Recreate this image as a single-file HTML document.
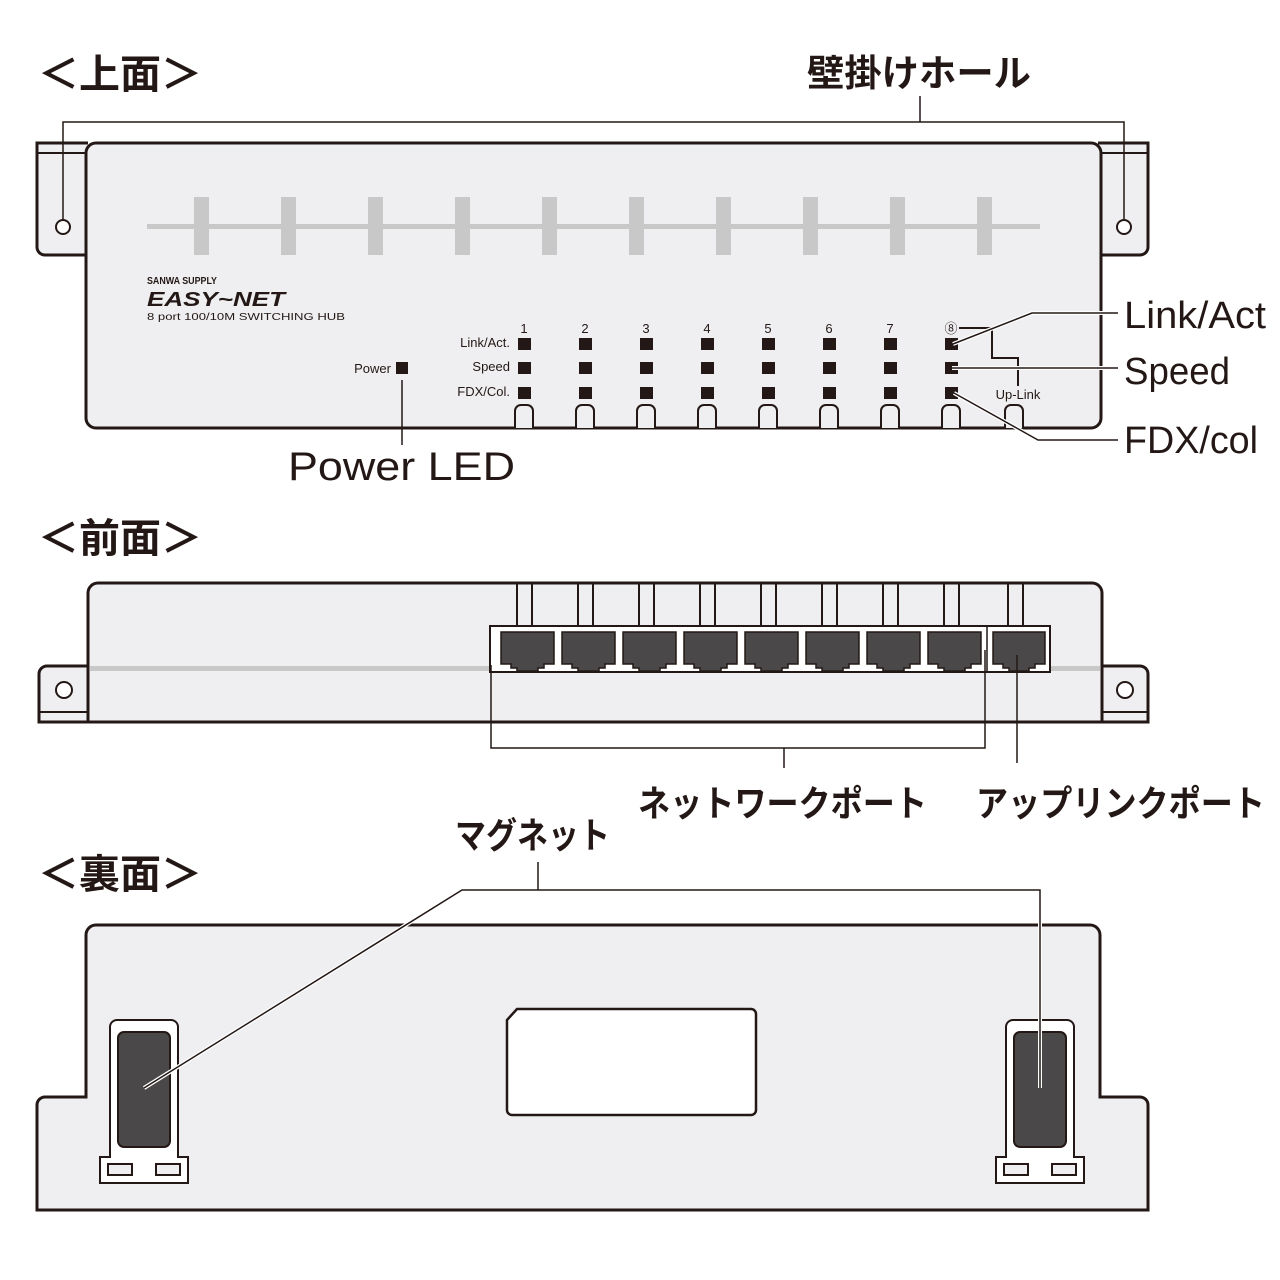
<!DOCTYPE html>
<html><head><meta charset="utf-8"><style>
html,body{margin:0;padding:0;background:#fff;}
svg{display:block;}
text{font-family:"Liberation Sans","Noto Sans CJK JP",sans-serif;fill:#231815;}
.jp{font-family:"Noto Sans CJK JP","Liberation Sans",sans-serif;font-weight:bold;}
</style></head><body>
<svg width="1280" height="1280" viewBox="0 0 1280 1280" xmlns="http://www.w3.org/2000/svg">
<g stroke="#231815" fill="none" stroke-width="3">
<!-- TOP VIEW -->
<path d="M88 143 H37 V247 a8 8 0 0 0 8 8 H88" fill="#efeff1"/>
<line x1="38" y1="153" x2="88" y2="153" stroke-width="2"/>
<path d="M1098 143 H1148 V247 a8 8 0 0 1 -8 8 H1098" fill="#efeff1"/>
<line x1="1098" y1="153" x2="1148" y2="153" stroke-width="2"/>
<rect x="86" y="143" width="1015" height="285" rx="10" fill="#efeff1"/>
<circle cx="63" cy="227" r="7" fill="#fff" stroke-width="2"/>
<circle cx="1124" cy="227" r="7" fill="#fff" stroke-width="2"/>
</g>
<g fill="#c8c8c8">
<rect x="147" y="224" width="893" height="5"/>
<rect x="194" y="197" width="15" height="58"/><rect x="281" y="197" width="15" height="58"/><rect x="368" y="197" width="15" height="58"/><rect x="455" y="197" width="15" height="58"/><rect x="542" y="197" width="15" height="58"/><rect x="629" y="197" width="15" height="58"/><rect x="716" y="197" width="15" height="58"/><rect x="803" y="197" width="15" height="58"/><rect x="890" y="197" width="15" height="58"/><rect x="977" y="197" width="15" height="58"/>
</g>
<g stroke="#231815" fill="none" stroke-width="1.5">
<path d="M63 220 V122 H1124 V220"/>
<line x1="920" y1="96" x2="920" y2="122"/>
</g>
<text x="147" y="284" font-size="10" font-weight="bold" textLength="70" lengthAdjust="spacingAndGlyphs">SANWA SUPPLY</text>
<text x="147" y="306" font-size="20" font-weight="bold" font-style="italic" textLength="138" lengthAdjust="spacingAndGlyphs">EASY~NET</text>
<text x="147" y="320" font-size="10" textLength="198" lengthAdjust="spacingAndGlyphs">8 port 100/10M   SWITCHING HUB</text>
<g font-size="13" text-anchor="middle">
<text x="524" y="333">1</text><text x="585" y="333">2</text><text x="646" y="333">3</text><text x="707" y="333">4</text><text x="768" y="333">5</text><text x="829" y="333">6</text><text x="890" y="333">7</text><text x="951" y="333">⑧</text>
</g>
<g font-size="13" text-anchor="end">
<text x="510" y="347">Link/Act.</text><text x="510" y="371">Speed</text><text x="510" y="396">FDX/Col.</text>
<text x="391" y="373">Power</text>
</g>
<text x="1018" y="399" font-size="13" text-anchor="middle">Up-Link</text>
<g fill="#231815">
<rect x="396" y="362" width="12" height="12"/>
<rect x="518" y="338" width="13" height="12"/><rect x="518" y="362" width="13" height="12"/><rect x="518" y="387" width="13" height="12"/>
<rect x="579" y="338" width="13" height="12"/><rect x="579" y="362" width="13" height="12"/><rect x="579" y="387" width="13" height="12"/>
<rect x="640" y="338" width="13" height="12"/><rect x="640" y="362" width="13" height="12"/><rect x="640" y="387" width="13" height="12"/>
<rect x="701" y="338" width="13" height="12"/><rect x="701" y="362" width="13" height="12"/><rect x="701" y="387" width="13" height="12"/>
<rect x="762" y="338" width="13" height="12"/><rect x="762" y="362" width="13" height="12"/><rect x="762" y="387" width="13" height="12"/>
<rect x="823" y="338" width="13" height="12"/><rect x="823" y="362" width="13" height="12"/><rect x="823" y="387" width="13" height="12"/>
<rect x="884" y="338" width="13" height="12"/><rect x="884" y="362" width="13" height="12"/><rect x="884" y="387" width="13" height="12"/>
<rect x="945" y="338" width="13" height="12"/><rect x="945" y="362" width="13" height="12"/><rect x="945" y="387" width="13" height="12"/>
</g>
<g stroke="#231815" fill="#efeff1" stroke-width="2">
<path d="M515 428 V411 a6 6 0 0 1 6 -6 h6 a6 6 0 0 1 6 6 V428"/>
<path d="M576 428 V411 a6 6 0 0 1 6 -6 h6 a6 6 0 0 1 6 6 V428"/>
<path d="M637 428 V411 a6 6 0 0 1 6 -6 h6 a6 6 0 0 1 6 6 V428"/>
<path d="M698 428 V411 a6 6 0 0 1 6 -6 h6 a6 6 0 0 1 6 6 V428"/>
<path d="M759 428 V411 a6 6 0 0 1 6 -6 h6 a6 6 0 0 1 6 6 V428"/>
<path d="M820 428 V411 a6 6 0 0 1 6 -6 h6 a6 6 0 0 1 6 6 V428"/>
<path d="M881 428 V411 a6 6 0 0 1 6 -6 h6 a6 6 0 0 1 6 6 V428"/>
<path d="M942 428 V411 a6 6 0 0 1 6 -6 h6 a6 6 0 0 1 6 6 V428"/>
<path d="M1005 428 V411 a6 6 0 0 1 6 -6 h6 a6 6 0 0 1 6 6 V428"/>
</g>
<g stroke="#231815" fill="none" stroke-width="1.5">
<line x1="402" y1="380" x2="402" y2="445"/>
<path d="M959 328 H992 V358 H1018 V386" stroke-width="2"/>
<path d="M953 344 L1032 313 H1118" stroke="#fff" stroke-width="4"/>
<path d="M953 344 L1032 313 H1118"/>
<path d="M952 368 H1118" stroke="#fff" stroke-width="4"/>
<path d="M952 368 H1118"/>
<path d="M954 393 L1038 440 H1118" stroke="#fff" stroke-width="4"/>
<path d="M954 393 L1038 440 H1118"/>
</g>
<text x="288" y="480" font-size="40" textLength="227" lengthAdjust="spacingAndGlyphs">Power LED</text>
<text x="1124" y="328" font-size="38" textLength="142" lengthAdjust="spacingAndGlyphs">Link/Act</text>
<text x="1124" y="384" font-size="38" textLength="106" lengthAdjust="spacingAndGlyphs">Speed</text>
<text x="1124" y="453" font-size="38" textLength="134" lengthAdjust="spacingAndGlyphs">FDX/col</text>

<text class="jp" x="38" y="88" font-size="40" textLength="164" lengthAdjust="spacingAndGlyphs">＜上面＞</text>
<text class="jp" x="807" y="86" font-size="37" textLength="224" lengthAdjust="spacingAndGlyphs">壁掛けホール</text>
<text class="jp" x="38" y="552" font-size="40" textLength="164" lengthAdjust="spacingAndGlyphs">＜前面＞</text>
<text class="jp" x="38" y="888" font-size="40" textLength="164" lengthAdjust="spacingAndGlyphs">＜裏面＞</text>

<!-- FRONT VIEW -->
<g stroke="#231815" stroke-width="3" fill="#efeff1">
<path d="M90 666 H47 a8 8 0 0 0 -8 8 V722 H90"/>
<path d="M1098 666 H1140 a8 8 0 0 1 8 8 V722 H1098"/>
<path d="M88 722 V593 a10 10 0 0 1 10 -10 H1092 a10 10 0 0 1 10 10 V722 Z"/>
</g>
<g stroke="#231815" stroke-width="2" fill="none">
<line x1="39" y1="712" x2="88" y2="712"/><line x1="1102" y1="712" x2="1148" y2="712"/>
<circle cx="64" cy="690" r="8" fill="#fff"/><circle cx="1125" cy="690" r="8" fill="#fff"/>
</g>
<rect x="90" y="666" width="1010" height="5" fill="#c8c8c8"/>
<g stroke="#231815" stroke-width="2" fill="none">
<line x1="517" y1="584" x2="517" y2="626"/><line x1="532" y1="584" x2="532" y2="626"/>
<line x1="578" y1="584" x2="578" y2="626"/><line x1="593" y1="584" x2="593" y2="626"/>
<line x1="639" y1="584" x2="639" y2="626"/><line x1="654" y1="584" x2="654" y2="626"/>
<line x1="700" y1="584" x2="700" y2="626"/><line x1="715" y1="584" x2="715" y2="626"/>
<line x1="761" y1="584" x2="761" y2="626"/><line x1="776" y1="584" x2="776" y2="626"/>
<line x1="822" y1="584" x2="822" y2="626"/><line x1="837" y1="584" x2="837" y2="626"/>
<line x1="883" y1="584" x2="883" y2="626"/><line x1="898" y1="584" x2="898" y2="626"/>
<line x1="944" y1="584" x2="944" y2="626"/><line x1="959" y1="584" x2="959" y2="626"/>
<line x1="1008" y1="584" x2="1008" y2="626"/><line x1="1023" y1="584" x2="1023" y2="626"/>
</g>
<rect x="490" y="626" width="560" height="46" fill="#fff" stroke="#231815" stroke-width="2"/>
<g fill="#4a4848" stroke="#231815" stroke-width="1.5">
<path d="M501 632 H554 V664 H544 V668 H538 V671 H517 V668 H511 V664 H501 Z"/>
<path d="M562 632 H615 V664 H605 V668 H599 V671 H578 V668 H572 V664 H562 Z"/>
<path d="M623 632 H676 V664 H666 V668 H660 V671 H639 V668 H633 V664 H623 Z"/>
<path d="M684 632 H737 V664 H727 V668 H721 V671 H700 V668 H694 V664 H684 Z"/>
<path d="M745 632 H798 V664 H788 V668 H782 V671 H761 V668 H755 V664 H745 Z"/>
<path d="M806 632 H859 V664 H849 V668 H843 V671 H822 V668 H816 V664 H806 Z"/>
<path d="M867 632 H920 V664 H910 V668 H904 V671 H883 V668 H877 V664 H867 Z"/>
<path d="M928 632 H981 V664 H971 V668 H965 V671 H944 V668 H938 V664 H928 Z"/>
<path d="M993 632 H1045 V664 H1035 V668 H1029 V671 H1009 V668 H1003 V664 H993 Z"/>
</g>
<g stroke="#231815" stroke-width="1.5" fill="none">
<line x1="987" y1="626" x2="987" y2="672"/>
<path d="M491 665 V748 H985 V650"/>
<line x1="784" y1="748" x2="784" y2="768"/>
<line x1="1017" y1="655" x2="1017" y2="763"/>
</g>
<text class="jp" x="638" y="816" font-size="36" textLength="289" lengthAdjust="spacingAndGlyphs">ネットワークポート</text>
<text class="jp" x="976" y="816" font-size="36" textLength="289" lengthAdjust="spacingAndGlyphs">アップリンクポート</text>

<!-- BACK VIEW -->
<text class="jp" x="455" y="848" font-size="36" textLength="155" lengthAdjust="spacingAndGlyphs">マグネット</text>
<path d="M86 1097 V935 a10 10 0 0 1 10 -10 H1090 a10 10 0 0 1 10 10 V1097 H1140 a8 8 0 0 1 8 8 V1210 H37 V1105 a8 8 0 0 1 8 -8 Z" fill="#efeff1" stroke="#231815" stroke-width="3"/>
<path d="M517 1009 H751 a5 5 0 0 1 5 5 V1110 a5 5 0 0 1 -5 5 H512 a5 5 0 0 1 -5 -5 V1020 Z" fill="#fff" stroke="#231815" stroke-width="2.5"/>
<g stroke="#231815" stroke-width="2">
<path d="M110 1157 V1027 a7 7 0 0 1 7 -7 H171 a7 7 0 0 1 7 7 V1157 H188 V1183 H100 V1157 Z" fill="#fff"/>
<rect x="118" y="1032" width="52" height="115" rx="6" fill="#4a4848"/>
<rect x="108" y="1164" width="24" height="11" fill="#efeff1"/><rect x="156" y="1164" width="24" height="11" fill="#efeff1"/>
<path d="M1006 1157 V1027 a7 7 0 0 1 7 -7 H1067 a7 7 0 0 1 7 7 V1157 H1084 V1183 H996 V1157 Z" fill="#fff"/>
<rect x="1014" y="1032" width="52" height="115" rx="6" fill="#4a4848"/>
<rect x="1004" y="1164" width="24" height="11" fill="#efeff1"/><rect x="1052" y="1164" width="24" height="11" fill="#efeff1"/>
</g>
<g fill="none">
<path d="M144 1088 L462 890 H1040 V1088" stroke="#fff" stroke-width="4"/>
<path d="M144 1088 L462 890 H1040 V1088" stroke="#231815" stroke-width="1.5"/>
<line x1="538" y1="862" x2="538" y2="890" stroke="#231815" stroke-width="1.5"/>
</g>
</svg>
</body></html>
